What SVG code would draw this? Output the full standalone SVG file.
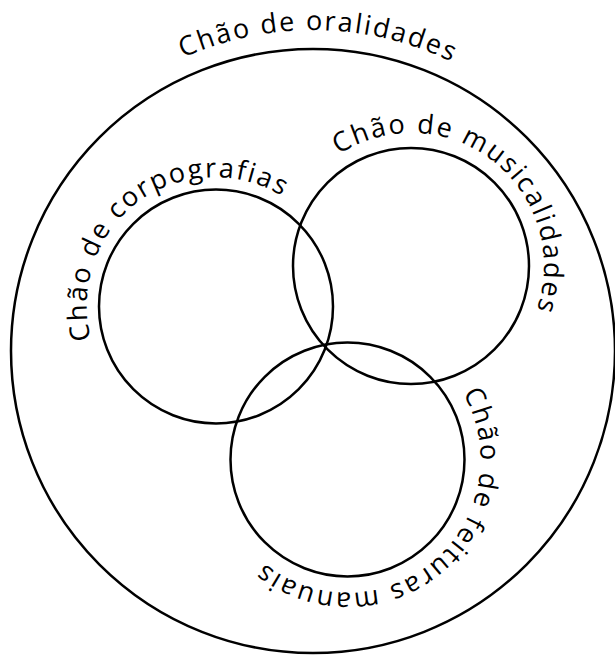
<svg xmlns="http://www.w3.org/2000/svg" xmlns:xlink="http://www.w3.org/1999/xlink" width="615" height="656" viewBox="0 0 615 656">
<style>
.ring{fill:none;stroke:#000;stroke-width:2.5}
.lbl{font-family:"Open Sans","DejaVu Sans",sans-serif;font-size:27px;fill:#000;letter-spacing:2px}
</style>
<defs>
<path id="p-oral" d="M 307.4 671.95 A 321 321 0 0 1 318.6 30.05 A 321 321 0 0 1 307.4 671.95"/>
<path id="p-corpo" d="M 293.9 412.3 A 131 131 0 0 1 138.1 201.7 A 131 131 0 0 1 293.9 412.3"/>
<path id="p-music" d="M 328.2 370.1 A 133 133 0 0 1 493.8 161.9 A 133 133 0 0 1 328.2 370.1"/>
<path id="p-feit" d="M 261.3 358.2 A 133 133 0 0 1 433.7 560.8 A 133 133 0 0 1 261.3 358.2"/>
</defs>
<rect width="615" height="656" fill="#fff"/>
<g id="oralidades">
<circle class="ring" cx="313" cy="351" r="302"/>
<text class="lbl" text-anchor="middle"><textPath xlink:href="#p-oral" href="#p-oral" startOffset="50%">Chão de oralidades</textPath></text>
</g>
<g id="corpografias">
<circle class="ring" cx="216" cy="306.5" r="117"/>
<text class="lbl" text-anchor="middle"><textPath xlink:href="#p-corpo" href="#p-corpo" startOffset="50%">Chão de corpografias</textPath></text>
</g>
<g id="musicalidades">
<circle class="ring" cx="411" cy="266" r="118"/>
<text class="lbl" text-anchor="middle"><textPath xlink:href="#p-music" href="#p-music" startOffset="50%">Chão de musicalidades</textPath></text>
</g>
<g id="feituras">
<circle class="ring" cx="347.5" cy="459.5" r="117"/>
<text class="lbl" text-anchor="middle"><textPath xlink:href="#p-feit" href="#p-feit" startOffset="50%">Chão de feituras manuais</textPath></text>
</g>
<g id="connectors"/>
</svg>
